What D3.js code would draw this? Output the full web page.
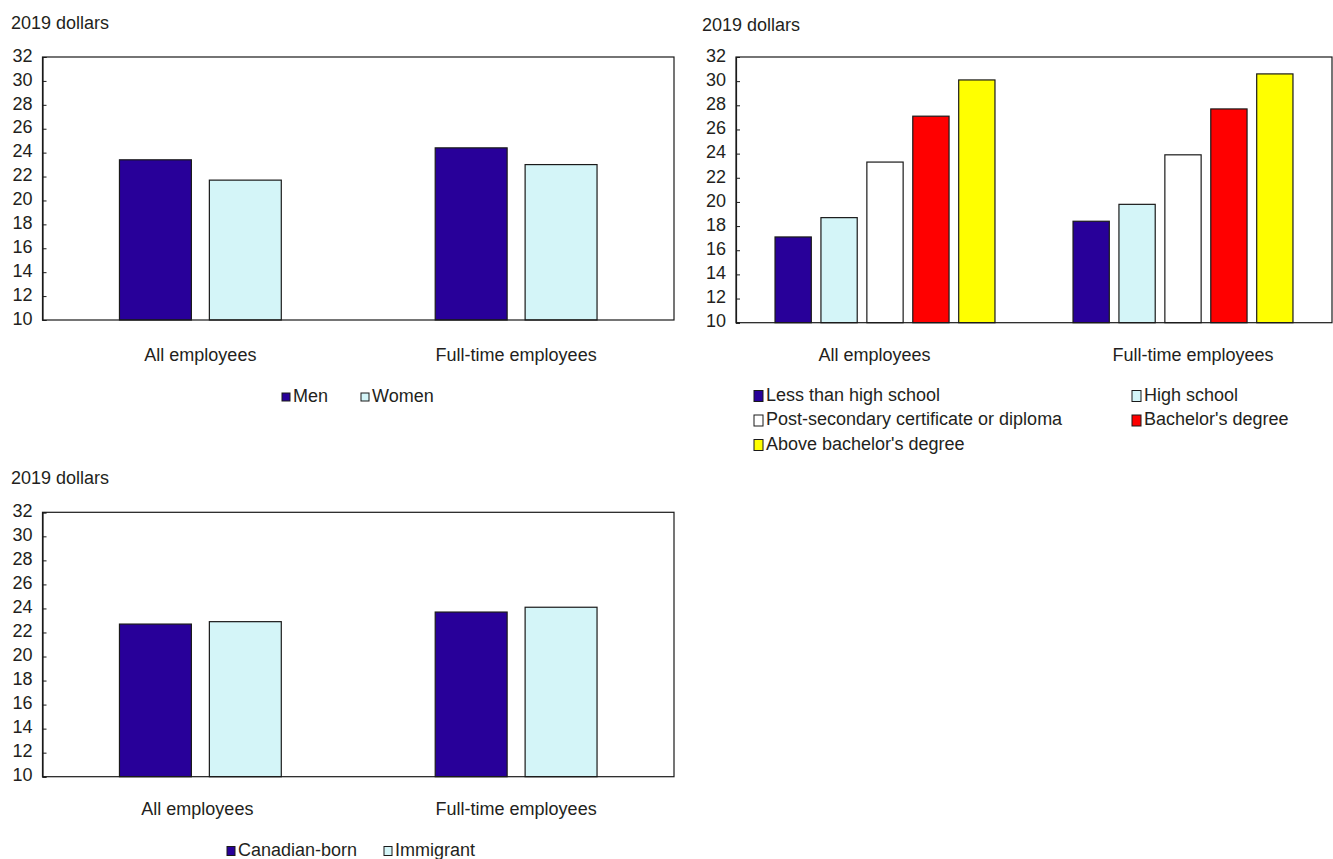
<!DOCTYPE html>
<html>
<head>
<meta charset="utf-8">
<script src="https://cdn.jsdelivr.net/npm/d3@7"></script>
<style>
  html, body { margin: 0; padding: 0; background: #ffffff; }
  svg { display: block; }
  text { font-family: "Liberation Sans", Arial, sans-serif; fill: #231f20; }
</style>
</head>
<body>
<svg id="chart" width="1333" height="859"></svg>
<script>
// ---------- data ----------
const categories = ["All employees", "Full-time employees"];
const yTicks = [10, 12, 14, 16, 18, 20, 22, 24, 26, 28, 30, 32];
const yUnitLabel = "2019 dollars";

const genderSeries = ["Men", "Women"];
const menValues = [23.4, 24.4];
const womenValues = [21.7, 23.0];

const educationSeries = ["Less than high school", "High school", "Post-secondary certificate or diploma", "Bachelor's degree", "Above bachelor's degree"];
const lessThanHighSchool = [17.1, 18.4];
const highSchool = [18.7, 19.8];
const postSecondary = [23.3, 23.9];
const bachelors = [27.1, 27.7];
const aboveBachelors = [30.1, 30.6];

const birthSeries = ["Canadian-born", "Immigrant"];
const canadianBorn = [22.7, 23.7];
const immigrant = [22.9, 24.1];

// ---------- styles ----------
const colors = {
  "Men": "#280099", "Women": "#d4f5f8",
  "Less than high school": "#280099", "High school": "#d4f5f8",
  "Post-secondary certificate or diploma": "#ffffff", "Bachelor's degree": "#ff0000",
  "Above bachelor's degree": "#ffff00",
  "Canadian-born": "#280099", "Immigrant": "#d4f5f8"
};

const svg = d3.select("#chart");

function drawPanel(cfg) {
  const g = svg.append("g");
  const y = d3.scaleLinear().domain([10, 32]).range([cfg.bottom, cfg.top]);
  const x0 = d3.scaleBand().domain(categories).range([cfg.left, cfg.right]).padding(0);
  const x1 = d3.scaleBand().domain(cfg.series).range([0, x0.bandwidth()])
    .paddingInner(cfg.pi).paddingOuter(cfg.po);

  // title
  g.append("text").attr("x", cfg.titleX).attr("y", cfg.titleY)
    .attr("dominant-baseline", "middle").style("font-size", "18px").text(yUnitLabel);

  // bars
  const rows = [];
  categories.forEach((c, ci) => cfg.series.forEach((s, si) => rows.push({c, s, v: cfg.values[si][ci]})));
  g.selectAll("rect.bar").data(rows).join("rect").attr("class", "bar")
    .attr("x", d => x0(d.c) + x1(d.s))
    .attr("width", x1.bandwidth())
    .attr("y", d => y(d.v))
    .attr("height", d => y(10) - y(d.v))
    .attr("fill", d => colors[d.s])
    .attr("stroke", "#1a1a1a").attr("stroke-width", 1.2);

  // frame
  g.append("rect").attr("x", cfg.left).attr("y", cfg.top)
    .attr("width", cfg.right - cfg.left).attr("height", cfg.bottom - cfg.top)
    .attr("fill", "none").attr("stroke", "#1a1a1a").attr("stroke-width", 1.2);

  // y axis
  const yAxis = d3.axisRight(y).tickValues(yTicks).tickSize(4).tickPadding(0).tickFormat("");
  const ya = g.append("g").attr("transform", `translate(${cfg.left},0)`).call(yAxis);
  ya.select(".domain").attr("stroke", "#1a1a1a").attr("stroke-width", 1.2);
  ya.selectAll(".tick line").attr("stroke", "#1a1a1a");
  g.selectAll("text.ytick").data(yTicks).join("text").attr("class", "ytick")
    .attr("x", cfg.left - 10).attr("y", d => y(d))
    .attr("text-anchor", "end").attr("dominant-baseline", "middle")
    .style("font-size", "18px").text(d => d);

  // category labels
  g.selectAll("text.cat").data(categories).join("text").attr("class", "cat")
    .attr("x", (d, i) => x0(d) + x0.bandwidth() / 2 + cfg.labelShift[i])
    .attr("y", cfg.catY).attr("text-anchor", "middle").attr("dominant-baseline", "middle")
    .style("font-size", "18px").text(d => d);

  // legend
  cfg.series.forEach((s, i) => {
    const p = cfg.legendPos[i];
    g.append("rect").attr("x", p[0]).attr("y", p[1] - cfg.markH / 2)
      .attr("width", cfg.markW).attr("height", cfg.markH)
      .attr("fill", colors[s]).attr("stroke", "#1a1a1a").attr("stroke-width", 1);
    g.append("text").attr("x", p[0] + cfg.markW + 3).attr("y", p[1])
      .attr("dominant-baseline", "middle").style("font-size", "18px").text(s);
  });
}

drawPanel({
  series: genderSeries, values: [menValues, womenValues],
  left: 42.5, right: 674, top: 57, bottom: 320,
  pi: 0.2, po: 0.856, titleX: 11, titleY: 24, catY: 356.5, labelShift: [0, 0],
  legendPos: [[282, 397], [361, 397]], markW: 8, markH: 8
});

drawPanel({
  series: educationSeries, values: [lessThanHighSchool, highSchool, postSecondary, bachelors, aboveBachelors],
  left: 736, right: 1332, top: 57, bottom: 322.7,
  pi: 0.21, po: 0.85, titleX: 702, titleY: 26, catY: 356.5, labelShift: [-10.5, 10],
  legendPos: [[754, 396], [1132, 396], [754, 420.5], [1132, 420.5], [754, 445]], markW: 9, markH: 11
});

drawPanel({
  series: birthSeries, values: [canadianBorn, immigrant],
  left: 42.5, right: 674, top: 512.3, bottom: 776.7,
  pi: 0.2, po: 0.856, titleX: 11, titleY: 479, catY: 810, labelShift: [-3, 0],
  legendPos: [[227, 851], [384, 851]], markW: 8, markH: 9
});
</script>
</body>
</html>
